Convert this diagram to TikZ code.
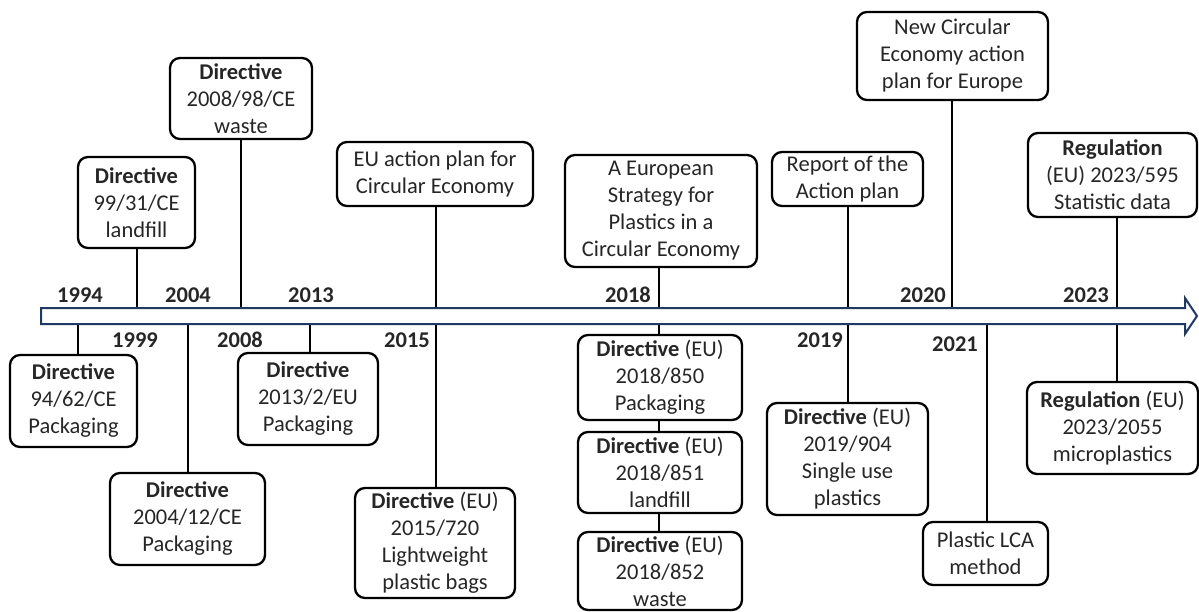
\documentclass[tikz,border=0pt]{standalone}
\usepackage{fontspec}
\setmainfont{Carlito}
\usepackage{tikz}
\usetikzlibrary{calc}
\definecolor{barblue}{RGB}{31,56,100}
\colorlet{txt}{black!85}
\tikzstyle{ev}=[draw=black, line width=2.3pt, rounded corners=10pt, align=center, inner sep=0pt, text=txt, font=\fontsize{22.5}{27}\selectfont]
\tikzstyle{yr}=[anchor=base, text=txt, font=\fontsize{22.5}{27}\selectfont\bfseries]
\tikzstyle{stem}=[line width=2pt]
\tikzstyle{bar}=[draw=barblue, line width=2pt, fill=white, line join=miter]
\newcommand\dir{\textbf{Directive}}

\begin{document}
\begin{tikzpicture}[x=1pt,y=-1pt]
	\useasboundingbox (0,0) rectangle (1199,612);
	% years on the bar
	\coordinate (barN) at (0,308);
	\coordinate (barS) at (0,324);
	\coordinate (y1994) at (78,316);
	\coordinate (y1999) at (137,316);
	\coordinate (y2004) at (188,316);
	\coordinate (y2008) at (241,316);
	\coordinate (y2013) at (310,316);
	\coordinate (y2015) at (436,316);
	\coordinate (y2018) at (659,316);
	\coordinate (y2019) at (848,316);
	\coordinate (y2020) at (952,316);
	\coordinate (y2021) at (987,316);
	\coordinate (y2023) at (1117,316);
	% events above
	\node[ev, minimum width=117, minimum height=91]  (b99)     at (136.5,202.5) {\dir\\99/31/CE\\landfill};
	\node[ev, minimum width=142, minimum height=81]  (b2008)   at (241,98.5)    {\dir\\2008/98/CE\\waste};
	\node[ev, minimum width=196, minimum height=64]  (bEUap)   at (435,174)     {EU action plan for\\Circular Economy};
	\node[ev, minimum width=192, minimum height=112] (bStrat)  at (661,211)     {A European\\Strategy for\\Plastics in a\\Circular Economy};
	\node[ev, minimum width=151, minimum height=54]  (bReport) at (847.5,179)   {Report of the\\Action plan};
	\node[ev, minimum width=191, minimum height=88]  (bNew)    at (952.5,56)    {New Circular\\Economy action\\plan for Europe};
	\node[ev, minimum width=169, minimum height=84]  (b595)    at (1112.5,175)  {\textbf{Regulation}\\(EU) 2023/595\\Statistic data};
	% events below
	\node[ev, minimum width=127, minimum height=92]  (b94)     at (73.5,401)    {\dir\\94/62/CE\\Packaging};
	\node[ev, minimum width=155, minimum height=92]  (b2004)   at (187.5,519)   {\dir\\2004/12/CE\\Packaging};
	\node[ev, minimum width=140, minimum height=92]  (b2013)   at (308,399)     {\dir\\2013/2/EU\\Packaging};
	\node[ev, minimum width=160, minimum height=110] (b2015)   at (435,543)     {\dir{} (EU)\\2015/720\\Lightweight\\plastic bags};
	\node[ev, minimum width=164, minimum height=85]  (b850)    at (660,377.5)   {\dir{} (EU)\\2018/850\\Packaging};
	\node[ev, minimum width=164, minimum height=81]  (b851)    at (660,472.5)   {\dir{} (EU)\\2018/851\\landfill};
	\node[ev, minimum width=164, minimum height=78]  (b852)    at (660,571)     {\dir{} (EU)\\2018/852\\waste};
	\node[ev, minimum width=161, minimum height=112] (b2019)   at (847.5,459)   {\dir{} (EU)\\2019/904\\Single use\\plastics};
	\node[ev, minimum width=125, minimum height=63]  (bLCA)    at (985.5,553.5) {Plastic LCA\\method};
	\node[ev, minimum width=171, minimum height=92]  (b2055)   at (1112.5,428)  {\textbf{Regulation} (EU)\\2023/2055\\microplastics};
	% stems
	\draw[stem] (y1999 |- b99.south)     -- (y1999 |- barN);
	\draw[stem] (y2008 |- b2008.south)   -- (y2008 |- barN);
	\draw[stem] (y2015 |- bEUap.south)   -- (y2015 |- barN);
	\draw[stem] (y2018 |- bStrat.south)  -- (y2018 |- barN);
	\draw[stem] (y2019 |- bReport.south) -- (y2019 |- barN);
	\draw[stem] (y2020 |- bNew.south)    -- (y2020 |- barN);
	\draw[stem] (y2023 |- b595.south)    -- (y2023 |- barN);
	\draw[stem] (y1994 |- barS) -- (y1994 |- b94.north);
	\draw[stem] (y2004 |- barS) -- (y2004 |- b2004.north);
	\draw[stem] (y2013 |- barS) -- (y2013 |- b2013.north);
	\draw[stem] (y2015 |- barS) -- (y2015 |- b2015.north);
	\draw[stem] (y2018 |- barS) -- (y2018 |- b850.north);
	\draw[stem] (y2018 |- b850.south) -- (y2018 |- b851.north);
	\draw[stem] (y2018 |- b851.south) -- (y2018 |- b852.north);
	\draw[stem] (y2019 |- barS) -- (y2019 |- b2019.north);
	\draw[stem] (y2021 |- barS) -- (y2021 |- bLCA.north);
	\draw[stem] (y2023 |- barS) -- (y2023 |- b2055.north);
	% the time bar
	\draw[bar] (41,308) -- (1185,308) -- (1185,298) -- (1197,316) -- (1185,334) -- (1185,324) -- (41,324) -- cycle;
	% year labels
	\node[yr] (l1994) at (80,302)   {1994};
	\node[yr] (l2004) at (188,302)  {2004};
	\node[yr] (l2013) at (311,302)  {2013};
	\node[yr] (l2018) at (628,302)  {2018};
	\node[yr] (l2020) at (923,302)  {2020};
	\node[yr] (l2023) at (1086,302) {2023};
	\node[yr] (l1999) at (135,347)  {1999};
	\node[yr] (l2008) at (240,347)  {2008};
	\node[yr] (l2015) at (407,347)  {2015};
	\node[yr] (l2019) at (820,347)  {2019};
	\node[yr] (l2021) at (955,351)  {2021};
\end{tikzpicture}
\end{document}
